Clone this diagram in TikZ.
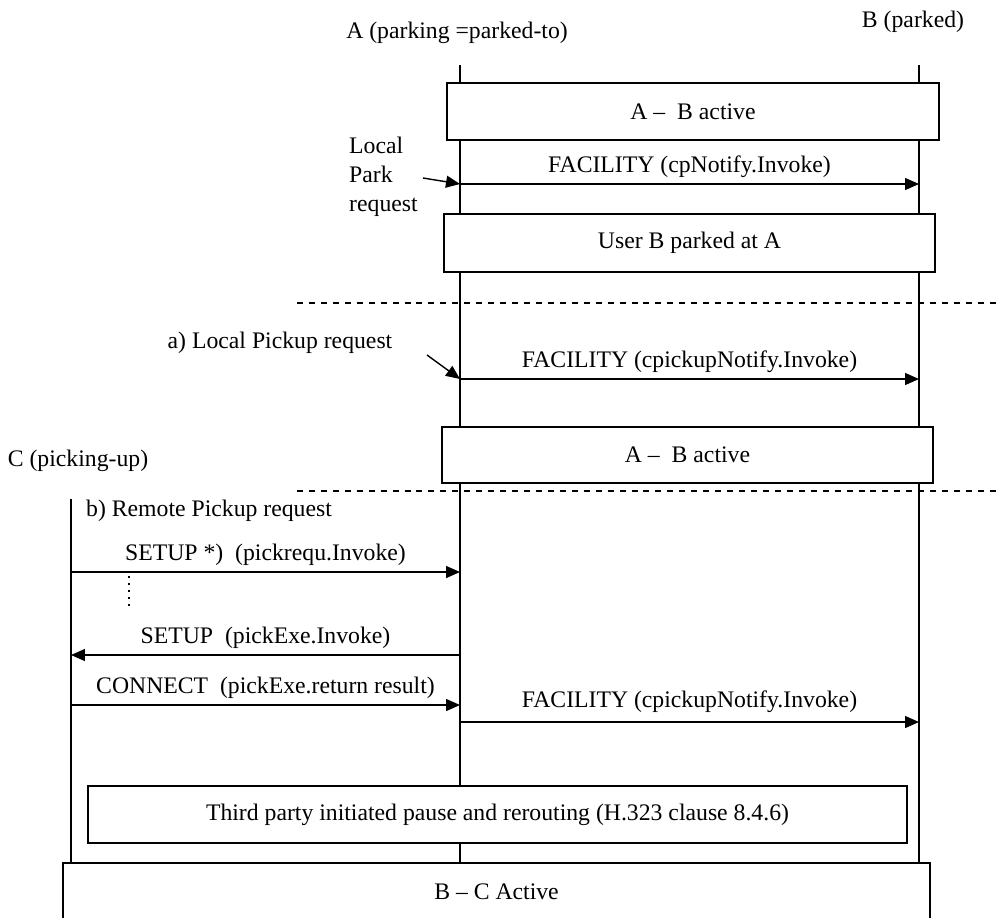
\documentclass[tikz,border=0pt]{standalone}
\usepackage{fontspec}
\setmainfont{Liberation Serif}
\usetikzlibrary{arrows.meta,positioning}
\tikzset{
    actbox/.style={draw, fill=white, line width=0.8pt, inner sep=0pt,
                   align=center},
    msg/.style={line width=0.8pt, -{Triangle[length=2.8mm,width=2.4mm]}},
    life/.style={line width=0.8pt},
    phasesep/.style={line width=0.6pt, dash pattern=on 3.4pt off 3.4pt},
    lbl/.style={above, inner sep=3pt},
}

\begin{document}
\begin{tikzpicture}[
    x=0.02cm, y=-0.02cm,
    font=\fontsize{13.5}{15.3}\selectfont
]
    \useasboundingbox (0,0) rectangle (1000,917);
    \clip (0,0) rectangle (1000,917);

    % parties
    \node (pa) at (457,33) {A (parking =parked-to)};
    \node (pb) at (913,22) {B (parked)};
    \node (pc) at (78,461) {C (picking-up)};

    % lifelines
    \coordinate (a0) at (460,65);  \coordinate (a1) at (460,863);
    \coordinate (b0) at (919,65);  \coordinate (b1) at (919,863);
    \coordinate (c0) at (71,499);  \coordinate (c1) at (71,863);
    \draw[life] (a0) -- (a1);
    \draw[life] (b0) -- (b1);
    \draw[life] (c0) -- (c1);

    % message end points
    \foreach \n/\y in {m1/184, m2/379, m3/572, m4/655, m5/705, m6/722} {
        \coordinate (\n c) at (71,\y);
        \coordinate (\n a) at (460,\y);
        \coordinate (\n b) at (919,\y);
    }

    % state boxes
    \node[actbox, minimum width=9.84cm, minimum height=1.14cm]
        (ab1) at (693,111.5) {A \textendash\ \ B active};
    \node[actbox, minimum width=9.82cm, minimum height=1.16cm]
        (park) at (689.5,243) {User B parked at A};
    \node[actbox, minimum width=9.82cm, minimum height=1.12cm]
        (ab2) at (687.5,455) {A \textendash\ \ B active};
    \node[actbox, minimum width=16.38cm, minimum height=1.14cm]
        (reroute) at (497.5,814.5)
        {Third party initiated pause and rerouting (H.323 clause 8.4.6)};
    \node[actbox, minimum width=17.34cm, minimum height=1.16cm]
        (bc) at (496.5,892) {B \textendash\ C Active};

    % phase separators
    \coordinate (s1l) at (297,303);  \coordinate (s1r) at (1000,303);
    \coordinate (s2l) at (297,491);  \coordinate (s2r) at (1000,491);
    \draw[phasesep] (s1l) -- (s1r);
    \draw[phasesep] (s2l) -- (s2r);

    % local park
    \node[anchor=west, align=left, font=\fontsize{13.5}{16.4}\selectfont]
        (lpark) at (343,177) {Local\\Park\\request};
    \coordinate (lpk) at (423,178);
    \draw[msg] (lpk) -- (m1a);
    \draw[msg] (m1a) -- node[lbl] {FACILITY (cpNotify.Invoke)} (m1b);

    % a) local pickup
    \node (lpick) at (280,343) {a) Local Pickup request};
    \coordinate (lpu) at (427,355);
    \draw[msg] (lpu) -- (m2a);
    \draw[msg] (m2a) -- node[lbl] {FACILITY (cpickupNotify.Invoke)} (m2b);

    % b) remote pickup
    \node[anchor=west] (rpick) at (80,511) {b) Remote Pickup request};
    \draw[msg] (m3c) -- node[lbl] {SETUP *)\ \ (pickrequ.Invoke)} (m3a);
    \coordinate (d0) at (129,576);  \coordinate (d1) at (129,608);
    \draw[line width=0.8pt, dash pattern=on 1.2pt off 2.8pt] (d0) -- (d1);
    \draw[msg] (m4a) -- node[lbl] {SETUP\ \ (pickExe.Invoke)} (m4c);
    \draw[msg] (m5c) -- node[lbl] {CONNECT\ \ (pickExe.return result)} (m5a);
    \draw[msg] (m6a) -- node[lbl, yshift=2pt] {FACILITY (cpickupNotify.Invoke)} (m6b);
\end{tikzpicture}
\end{document}
